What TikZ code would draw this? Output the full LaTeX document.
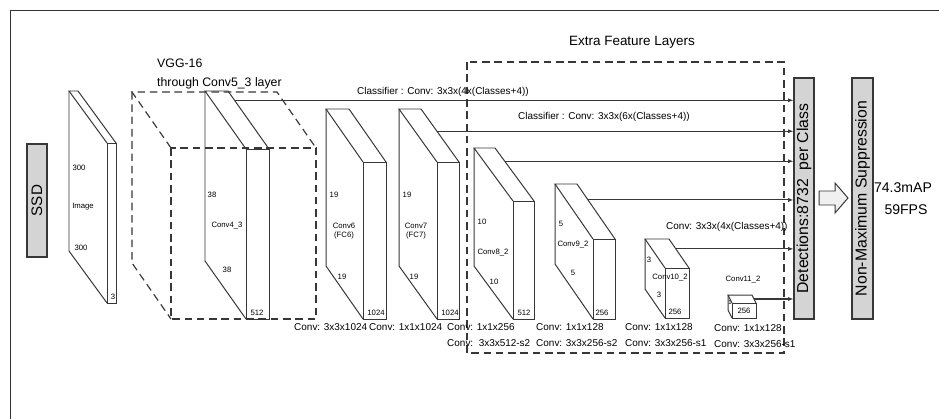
\documentclass[tikz,border=0pt]{standalone}
\usepackage{fontspec}
\setmainfont{Liberation Sans}
\usepackage{tikz}
\usetikzlibrary{calc,arrows.meta}
\definecolor{linegray}{RGB}{55,55,55}
\definecolor{boxgray}{RGB}{212,212,212}

\tikzset{
  frame/.style={draw=black!80,line width=0.8pt},
  slab/.style={draw=linegray,line width=0.85pt},
  vggbox/.style={draw=linegray,line width=1pt,dash pattern=on 6.5pt off 4pt},
  gbox/.style={draw=linegray,fill=boxgray,line width=0.9pt,inner sep=0},
  cls/.style={draw=linegray,line width=0.9pt,-{Latex[length=4.5pt,width=3.5pt]}},
  tiny/.style={font=\fontsize{6.6}{7}\selectfont,inner sep=0},
  lbl/.style={font=\fontsize{8.5}{10}\selectfont,inner sep=0,anchor=west},
  big/.style={font=\fontsize{13.5}{15}\selectfont,inner sep=0,rotate=90}
}

% caja 3D: estilo, nombre, x, y (esquina frontal), ancho, alto, fondo x, fondo y
\newcommand{\featmap}[8][slab]{%
  \draw[#1] (#3,#4) rectangle (#3+#5,#4+#6);
  \draw[#1] (#3,#4) -- (#3-#7,#4-#8) -- (#3+#5-#7,#4-#8) -- (#3+#5,#4);
  \draw[#1] (#3-#7,#4-#8) -- (#3-#7,#4+#6-#8) -- (#3,#4+#6);
  \coordinate (#2-b) at (#3+#5-#7,#4-#8);
  \coordinate (#2-f) at (#3+#5,#4);
}

\begin{document}
\begin{tikzpicture}[x=0.03cm,y=-0.03cm]
\useasboundingbox (0,0) rectangle (939,419);

% marco
\draw[frame] (10,419) -- (10,10) -- (939,10);

% SSD
\node[gbox,minimum width=0.6cm,minimum height=3.39cm] (ssd) at (37,200.5) {};
\node[big,font=\fontsize{13}{15}\selectfont] (ssdtxt) at (ssd.center) {SSD};

% imagen de entrada
\featmap{img}{107}{143}{9}{160}{38}{52}
\node[tiny] (img1) at (79,168) {300};
\node[tiny] (img2) at (83,207) {Image};
\node[tiny] (img3) at (81,248) {300};
\node[tiny] (img4) at (113,297) {3};

% VGG-16
\featmap[vggbox]{vgg}{171}{148}{145}{171}{39}{56}
\node[lbl,font=\fontsize{10.5}{12}\selectfont] (vgg1) at (157,63) {VGG-16};
\node[lbl,font=\fontsize{10.5}{12}\selectfont] (vgg2) at (157,83) {through Conv5\_3 layer};

% Conv4_3
\featmap{c43}{246}{149}{23}{170}{41}{58}
\node[tiny] (c43a) at (212,195) {38};
\node[tiny] (c43n) at (227,226) {Conv4\_3};
\node[tiny] (c43c) at (227,270) {38};
\node[tiny] (c43d) at (257,313) {512};

% Conv6
\featmap{c6}{363}{162}{23}{157}{37}{53}
\node[tiny] (c6a) at (334,195) {19};
\node[tiny,align=center] (c6n) at (344,231) {Conv6\\[1pt](FC6)};
\node[tiny] (c6c) at (342,277) {19};
\node[tiny] (c6d) at (376,313) {1024};

% Conv7
\featmap{c7}{437}{162}{22}{157}{38}{53}
\node[tiny] (c7a) at (407,195) {19};
\node[tiny,align=center] (c7n) at (416,231) {Conv7\\[1pt](FC7)};
\node[tiny] (c7c) at (414,277) {19};
\node[tiny] (c7d) at (450,313) {1024};

% capas extra
\draw[vggbox] (467,62) rectangle (784,353);
\node[font=\fontsize{11.5}{13}\selectfont,inner sep=0] (extra) at (632,42) {Extra Feature Layers};

% Conv8_2
\featmap{c8}{513}{201}{21}{118}{39}{53}
\node[tiny] (c8a) at (482,222) {10};
\node[tiny] (c8n) at (493,253) {Conv8\_2};
\node[tiny] (c8c) at (494,282) {10};
\node[tiny] (c8d) at (524,313) {512};

% Conv9_2
\featmap{c9}{593}{239}{22}{80}{38}{55}
\node[tiny] (c9a) at (561,224) {5};
\node[tiny] (c9n) at (573,245) {Conv9\_2};
\node[tiny] (c9c) at (573,273) {5};
\node[tiny] (c9d) at (602,313) {256};

% Conv10_2
\featmap{c10}{665}{268}{24}{50}{20}{29}
\node[tiny] (c10a) at (649,260) {3};
\node[tiny] (c10n) at (670,278) {Conv10\_2};
\node[tiny] (c10c) at (659,295) {3};
\node[tiny] (c10d) at (675,312) {256};

% Conv11_2
\featmap{c11}{732}{303}{24}{15}{4}{8}
\node[tiny] (c11n) at (743,280) {Conv11\_2};
\node[tiny,font=\fontsize{5}{5}\selectfont] (c11a) at (730,302) {1};
\node[tiny] (c11d) at (744,311) {256};

% detecciones, NMS
\node[gbox,minimum width=0.6cm,minimum height=7.23cm] (det) at (804,198.5) {};
\node[big] (dettxt) at (det.center) {Detections:8732~~per Class};
\node[gbox,minimum width=0.63cm,minimum height=7.23cm] (nms) at (862.5,198.5) {};
\node[big] (nmstxt) at (nms.center) {Non-Maximum Suppression};
\draw[slab,fill=black!6] (819,191) -- (835,191) -- (835,183) -- (848,198)
  -- (835,213) -- (835,205) -- (819,205) -- cycle;
\node[font=\fontsize{12}{14}\selectfont,inner sep=0] (map) at (903,188) {74.3mAP};
\node[font=\fontsize{12}{14}\selectfont,inner sep=0] (fps) at (906,210) {59FPS};

% clasificadores
\coordinate (a1) at ($(c43-b)!0.16!(c43-f)$);
\coordinate (a2) at ($(c7-b)!0.42!(c7-f)$);
\coordinate (a3) at ($(c8-b)!0.25!(c8-f)$);
\coordinate (a4) at ($(c9-b)!0.29!(c9-f)$);
\coordinate (a5) at ($(c10-b)!0.34!(c10-f)$);
\coordinate (a6) at ($(c11-b)!0.5!(c11-f)$);
\foreach \a in {a1,a2,a3,a4,a5,a6}
  \draw[cls] (\a) -- (\a -| det.west);
\node[lbl] (cl1) at (357,92) {Classifier : Conv: 3x3x(4x(Classes+4))};
\node[lbl] (cl2) at (518,117) {Classifier : Conv: 3x3x(6x(Classes+4))};
\node[lbl] (cl3) at (666,227) {Conv: 3x3x(4x(Classes+4))};

% convoluciones
\node[lbl] (cv1) at (294,327) {Conv: 3x3x1024};
\node[lbl] (cv2) at (369,327) {Conv: 1x1x1024};
\node[lbl] (cv3) at (447,327) {Conv: 1x1x256};
\node[lbl] (cv4) at (447,343) {Conv:~~3x3x512-s2};
\node[lbl] (cv5) at (536,327) {Conv: 1x1x128};
\node[lbl] (cv6) at (536,343) {Conv: 3x3x256-s2};
\node[lbl] (cv7) at (625,327) {Conv: 1x1x128};
\node[lbl] (cv8) at (625,343) {Conv: 3x3x256-s1};
\node[lbl] (cv9) at (714,328) {Conv: 1x1x128};
\node[lbl] (cv10) at (714,344) {Conv: 3x3x256-s1};

\end{tikzpicture}
\end{document}
